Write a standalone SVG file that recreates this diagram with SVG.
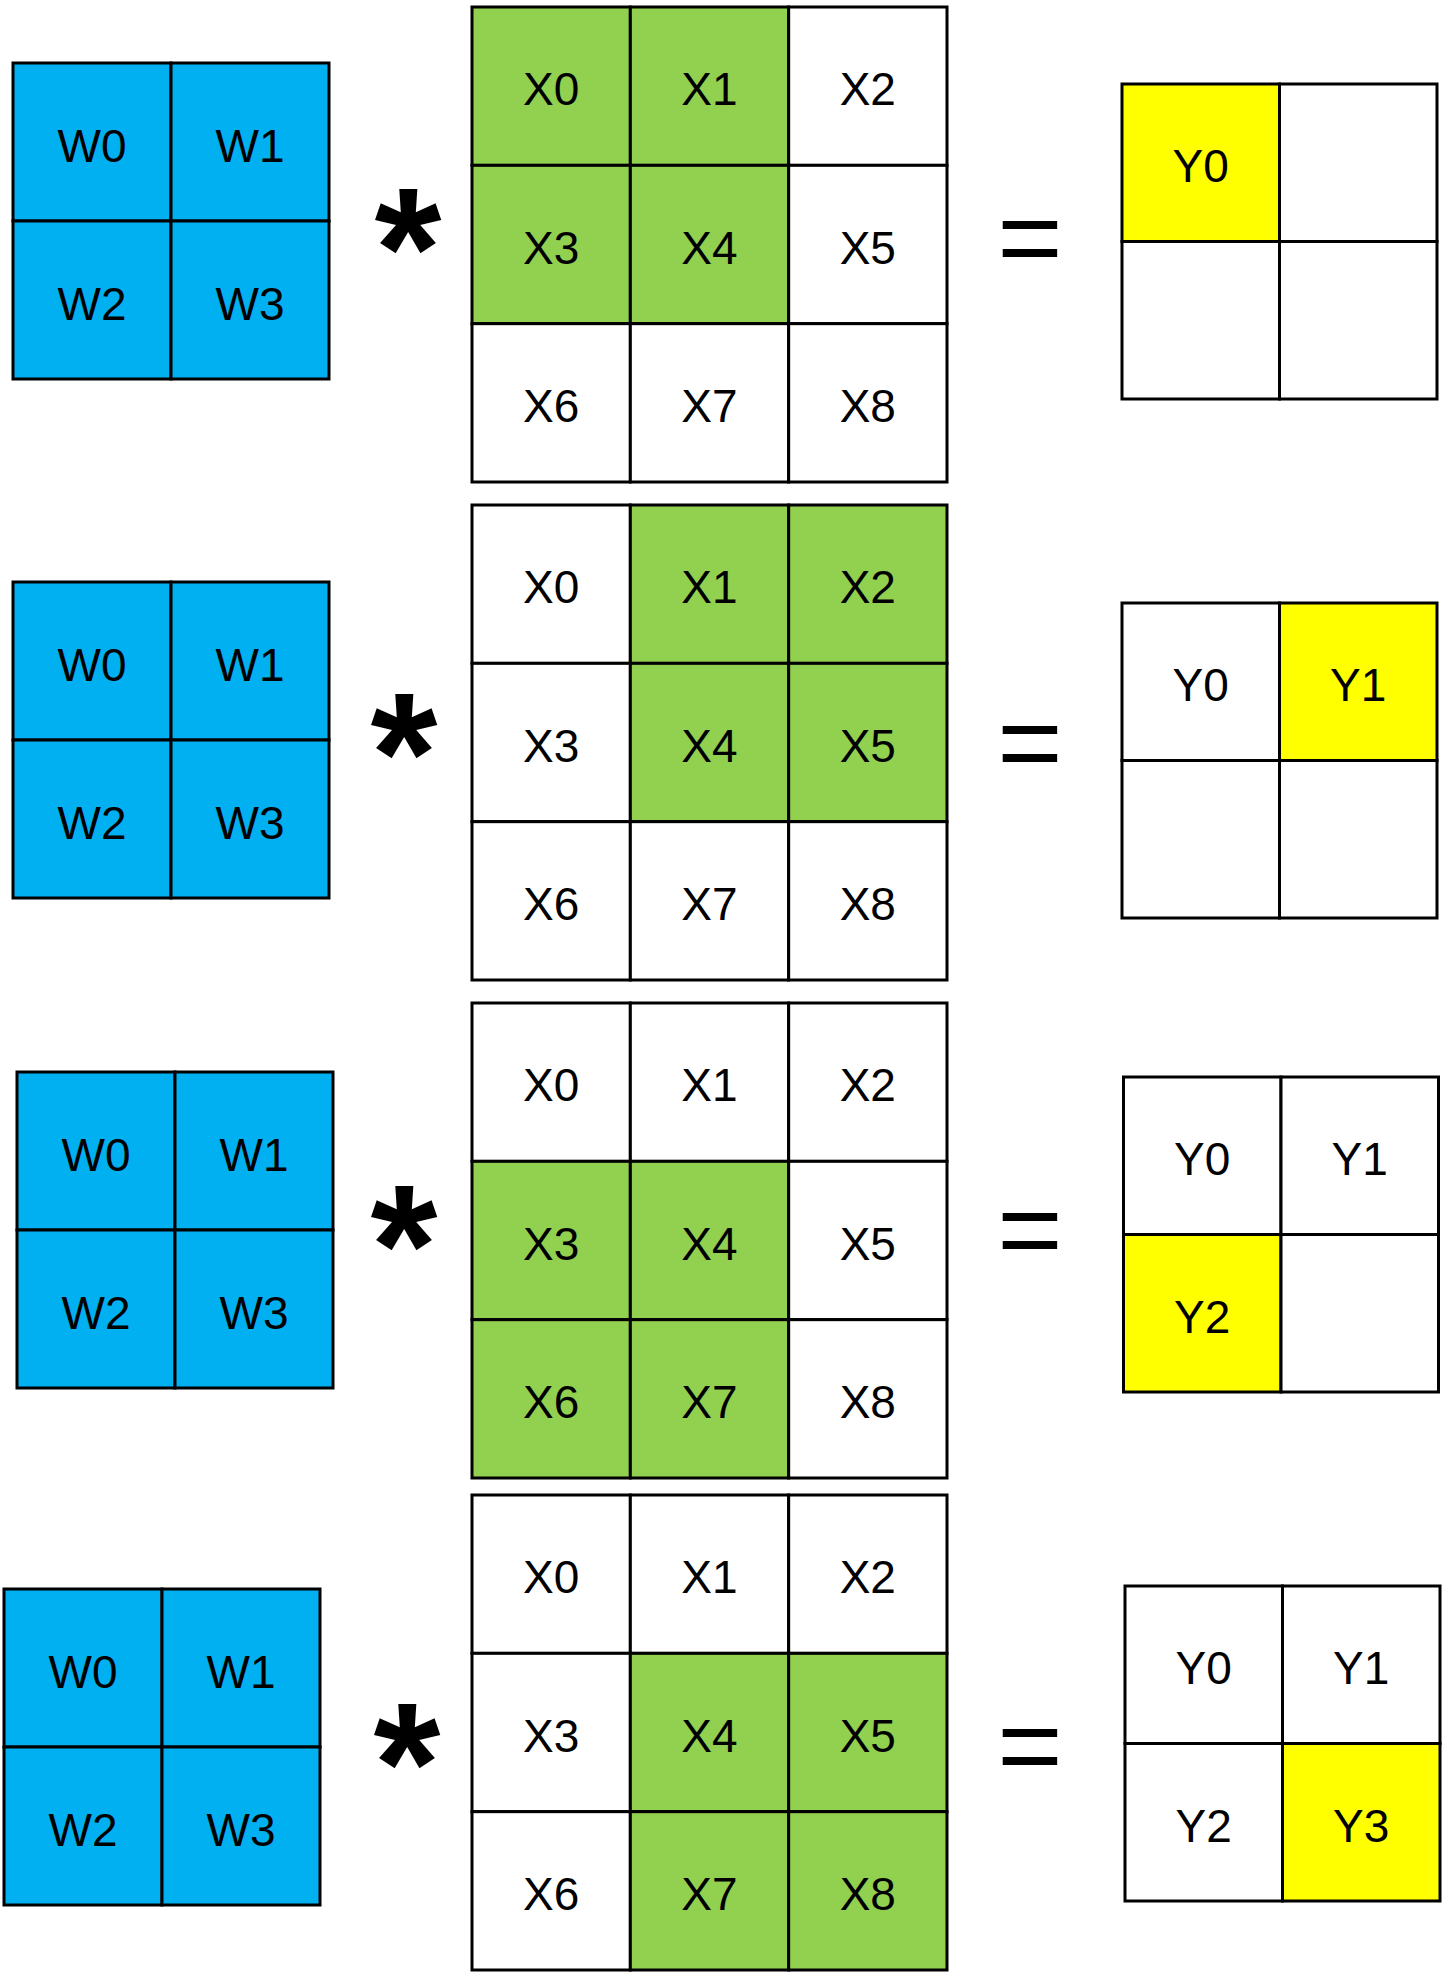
<svg xmlns="http://www.w3.org/2000/svg" width="1451" height="1983" viewBox="0 0 1451 1983">
<style>
rect.c{stroke:#000;stroke-width:3}
.b{fill:#00B0F0}.g{fill:#92D050}.y{fill:#FFFF00}.w{fill:#FFFFFF}
text.l{font-family:"Liberation Sans",Arial,sans-serif;font-size:46px;text-anchor:middle;fill:#000}
text.op{font-family:"Liberation Sans",Arial,sans-serif;text-anchor:middle;fill:#000}
text.mul{font-size:172px;font-weight:bold}
text.eq{font-size:112px}
</style>
<rect x="0" y="0" width="1451" height="1983" fill="#fff"/>
<g id="connectors"/>
<!-- Row 1 -->
<g id="W_r1">
<g id="W0_r1"><rect class="c b" x="13" y="63" width="158" height="158"/><text class="l" x="92" y="162">W0</text></g>
<g id="W1_r1"><rect class="c b" x="171" y="63" width="158" height="158"/><text class="l" x="250" y="162">W1</text></g>
<g id="W2_r1"><rect class="c b" x="13" y="221" width="158" height="158"/><text class="l" x="92" y="320">W2</text></g>
<g id="W3_r1"><rect class="c b" x="171" y="221" width="158" height="158"/><text class="l" x="250" y="320">W3</text></g>
</g>
<g id="mul_r1"><text class="op mul" x="408" y="308">*</text></g>
<g id="X_r1">
<g id="X0_r1"><rect class="c g" x="472" y="7" width="158.33" height="158.33"/><text class="l" x="551.2" y="105.2">X0</text></g>
<g id="X1_r1"><rect class="c g" x="630.33" y="7" width="158.33" height="158.33"/><text class="l" x="709.5" y="105.2">X1</text></g>
<g id="X2_r1"><rect class="c w" x="788.67" y="7" width="158.33" height="158.33"/><text class="l" x="867.8" y="105.2">X2</text></g>
<g id="X3_r1"><rect class="c g" x="472" y="165.33" width="158.33" height="158.33"/><text class="l" x="551.2" y="263.5">X3</text></g>
<g id="X4_r1"><rect class="c g" x="630.33" y="165.33" width="158.33" height="158.33"/><text class="l" x="709.5" y="263.5">X4</text></g>
<g id="X5_r1"><rect class="c w" x="788.67" y="165.33" width="158.33" height="158.33"/><text class="l" x="867.8" y="263.5">X5</text></g>
<g id="X6_r1"><rect class="c w" x="472" y="323.67" width="158.33" height="158.33"/><text class="l" x="551.2" y="421.8">X6</text></g>
<g id="X7_r1"><rect class="c w" x="630.33" y="323.67" width="158.33" height="158.33"/><text class="l" x="709.5" y="421.8">X7</text></g>
<g id="X8_r1"><rect class="c w" x="788.67" y="323.67" width="158.33" height="158.33"/><text class="l" x="867.8" y="421.8">X8</text></g>
</g>
<g id="eq_r1"><text class="op eq" x="1030" y="276">=</text></g>
<g id="Y_r1">
<g id="Y0_r1"><rect class="c y" x="1122" y="84" width="157.5" height="157.5"/><text class="l" x="1200.75" y="182.25">Y0</text></g>
<g id="Y1_r1"><rect class="c w" x="1279.5" y="84" width="157.5" height="157.5"/></g>
<g id="Y2_r1"><rect class="c w" x="1122" y="241.5" width="157.5" height="157.5"/></g>
<g id="Y3_r1"><rect class="c w" x="1279.5" y="241.5" width="157.5" height="157.5"/></g>
</g>
<!-- Row 2 -->
<g id="W_r2">
<g id="W0_r2"><rect class="c b" x="13" y="582" width="158" height="158"/><text class="l" x="92" y="681">W0</text></g>
<g id="W1_r2"><rect class="c b" x="171" y="582" width="158" height="158"/><text class="l" x="250" y="681">W1</text></g>
<g id="W2_r2"><rect class="c b" x="13" y="740" width="158" height="158"/><text class="l" x="92" y="839">W2</text></g>
<g id="W3_r2"><rect class="c b" x="171" y="740" width="158" height="158"/><text class="l" x="250" y="839">W3</text></g>
</g>
<g id="mul_r2"><text class="op mul" x="404" y="813">*</text></g>
<g id="X_r2">
<g id="X0_r2"><rect class="c w" x="472" y="505" width="158.33" height="158.33"/><text class="l" x="551.2" y="603.2">X0</text></g>
<g id="X1_r2"><rect class="c g" x="630.33" y="505" width="158.33" height="158.33"/><text class="l" x="709.5" y="603.2">X1</text></g>
<g id="X2_r2"><rect class="c g" x="788.67" y="505" width="158.33" height="158.33"/><text class="l" x="867.8" y="603.2">X2</text></g>
<g id="X3_r2"><rect class="c w" x="472" y="663.33" width="158.33" height="158.33"/><text class="l" x="551.2" y="761.5">X3</text></g>
<g id="X4_r2"><rect class="c g" x="630.33" y="663.33" width="158.33" height="158.33"/><text class="l" x="709.5" y="761.5">X4</text></g>
<g id="X5_r2"><rect class="c g" x="788.67" y="663.33" width="158.33" height="158.33"/><text class="l" x="867.8" y="761.5">X5</text></g>
<g id="X6_r2"><rect class="c w" x="472" y="821.67" width="158.33" height="158.33"/><text class="l" x="551.2" y="919.8">X6</text></g>
<g id="X7_r2"><rect class="c w" x="630.33" y="821.67" width="158.33" height="158.33"/><text class="l" x="709.5" y="919.8">X7</text></g>
<g id="X8_r2"><rect class="c w" x="788.67" y="821.67" width="158.33" height="158.33"/><text class="l" x="867.8" y="919.8">X8</text></g>
</g>
<g id="eq_r2"><text class="op eq" x="1030" y="781">=</text></g>
<g id="Y_r2">
<g id="Y0_r2"><rect class="c w" x="1122" y="603" width="157.5" height="157.5"/><text class="l" x="1200.75" y="701.25">Y0</text></g>
<g id="Y1_r2"><rect class="c y" x="1279.5" y="603" width="157.5" height="157.5"/><text class="l" x="1358.25" y="701.25">Y1</text></g>
<g id="Y2_r2"><rect class="c w" x="1122" y="760.5" width="157.5" height="157.5"/></g>
<g id="Y3_r2"><rect class="c w" x="1279.5" y="760.5" width="157.5" height="157.5"/></g>
</g>
<!-- Row 3 -->
<g id="W_r3">
<g id="W0_r3"><rect class="c b" x="17" y="1072" width="158" height="158"/><text class="l" x="96" y="1171">W0</text></g>
<g id="W1_r3"><rect class="c b" x="175" y="1072" width="158" height="158"/><text class="l" x="254" y="1171">W1</text></g>
<g id="W2_r3"><rect class="c b" x="17" y="1230" width="158" height="158"/><text class="l" x="96" y="1329">W2</text></g>
<g id="W3_r3"><rect class="c b" x="175" y="1230" width="158" height="158"/><text class="l" x="254" y="1329">W3</text></g>
</g>
<g id="mul_r3"><text class="op mul" x="404" y="1305">*</text></g>
<g id="X_r3">
<g id="X0_r3"><rect class="c w" x="472" y="1003" width="158.33" height="158.33"/><text class="l" x="551.2" y="1101.2">X0</text></g>
<g id="X1_r3"><rect class="c w" x="630.33" y="1003" width="158.33" height="158.33"/><text class="l" x="709.5" y="1101.2">X1</text></g>
<g id="X2_r3"><rect class="c w" x="788.67" y="1003" width="158.33" height="158.33"/><text class="l" x="867.8" y="1101.2">X2</text></g>
<g id="X3_r3"><rect class="c g" x="472" y="1161.33" width="158.33" height="158.33"/><text class="l" x="551.2" y="1259.5">X3</text></g>
<g id="X4_r3"><rect class="c g" x="630.33" y="1161.33" width="158.33" height="158.33"/><text class="l" x="709.5" y="1259.5">X4</text></g>
<g id="X5_r3"><rect class="c w" x="788.67" y="1161.33" width="158.33" height="158.33"/><text class="l" x="867.8" y="1259.5">X5</text></g>
<g id="X6_r3"><rect class="c g" x="472" y="1319.67" width="158.33" height="158.33"/><text class="l" x="551.2" y="1417.8">X6</text></g>
<g id="X7_r3"><rect class="c g" x="630.33" y="1319.67" width="158.33" height="158.33"/><text class="l" x="709.5" y="1417.8">X7</text></g>
<g id="X8_r3"><rect class="c w" x="788.67" y="1319.67" width="158.33" height="158.33"/><text class="l" x="867.8" y="1417.8">X8</text></g>
</g>
<g id="eq_r3"><text class="op eq" x="1030" y="1268">=</text></g>
<g id="Y_r3">
<g id="Y0_r3"><rect class="c w" x="1123.5" y="1077" width="157.5" height="157.5"/><text class="l" x="1202.25" y="1175.25">Y0</text></g>
<g id="Y1_r3"><rect class="c w" x="1281" y="1077" width="157.5" height="157.5"/><text class="l" x="1359.75" y="1175.25">Y1</text></g>
<g id="Y2_r3"><rect class="c y" x="1123.5" y="1234.5" width="157.5" height="157.5"/><text class="l" x="1202.25" y="1332.75">Y2</text></g>
<g id="Y3_r3"><rect class="c w" x="1281" y="1234.5" width="157.5" height="157.5"/></g>
</g>
<!-- Row 4 -->
<g id="W_r4">
<g id="W0_r4"><rect class="c b" x="4" y="1589" width="158" height="158"/><text class="l" x="83" y="1688">W0</text></g>
<g id="W1_r4"><rect class="c b" x="162" y="1589" width="158" height="158"/><text class="l" x="241" y="1688">W1</text></g>
<g id="W2_r4"><rect class="c b" x="4" y="1747" width="158" height="158"/><text class="l" x="83" y="1846">W2</text></g>
<g id="W3_r4"><rect class="c b" x="162" y="1747" width="158" height="158"/><text class="l" x="241" y="1846">W3</text></g>
</g>
<g id="mul_r4"><text class="op mul" x="407" y="1823">*</text></g>
<g id="X_r4">
<g id="X0_r4"><rect class="c w" x="472" y="1495" width="158.33" height="158.33"/><text class="l" x="551.2" y="1593.2">X0</text></g>
<g id="X1_r4"><rect class="c w" x="630.33" y="1495" width="158.33" height="158.33"/><text class="l" x="709.5" y="1593.2">X1</text></g>
<g id="X2_r4"><rect class="c w" x="788.67" y="1495" width="158.33" height="158.33"/><text class="l" x="867.8" y="1593.2">X2</text></g>
<g id="X3_r4"><rect class="c w" x="472" y="1653.33" width="158.33" height="158.33"/><text class="l" x="551.2" y="1751.5">X3</text></g>
<g id="X4_r4"><rect class="c g" x="630.33" y="1653.33" width="158.33" height="158.33"/><text class="l" x="709.5" y="1751.5">X4</text></g>
<g id="X5_r4"><rect class="c g" x="788.67" y="1653.33" width="158.33" height="158.33"/><text class="l" x="867.8" y="1751.5">X5</text></g>
<g id="X6_r4"><rect class="c w" x="472" y="1811.67" width="158.33" height="158.33"/><text class="l" x="551.2" y="1909.8">X6</text></g>
<g id="X7_r4"><rect class="c g" x="630.33" y="1811.67" width="158.33" height="158.33"/><text class="l" x="709.5" y="1909.8">X7</text></g>
<g id="X8_r4"><rect class="c g" x="788.67" y="1811.67" width="158.33" height="158.33"/><text class="l" x="867.8" y="1909.8">X8</text></g>
</g>
<g id="eq_r4"><text class="op eq" x="1030" y="1784">=</text></g>
<g id="Y_r4">
<g id="Y0_r4"><rect class="c w" x="1125" y="1586" width="157.5" height="157.5"/><text class="l" x="1203.75" y="1684.25">Y0</text></g>
<g id="Y1_r4"><rect class="c w" x="1282.5" y="1586" width="157.5" height="157.5"/><text class="l" x="1361.25" y="1684.25">Y1</text></g>
<g id="Y2_r4"><rect class="c w" x="1125" y="1743.5" width="157.5" height="157.5"/><text class="l" x="1203.75" y="1841.75">Y2</text></g>
<g id="Y3_r4"><rect class="c y" x="1282.5" y="1743.5" width="157.5" height="157.5"/><text class="l" x="1361.25" y="1841.75">Y3</text></g>
</g>
</svg>
